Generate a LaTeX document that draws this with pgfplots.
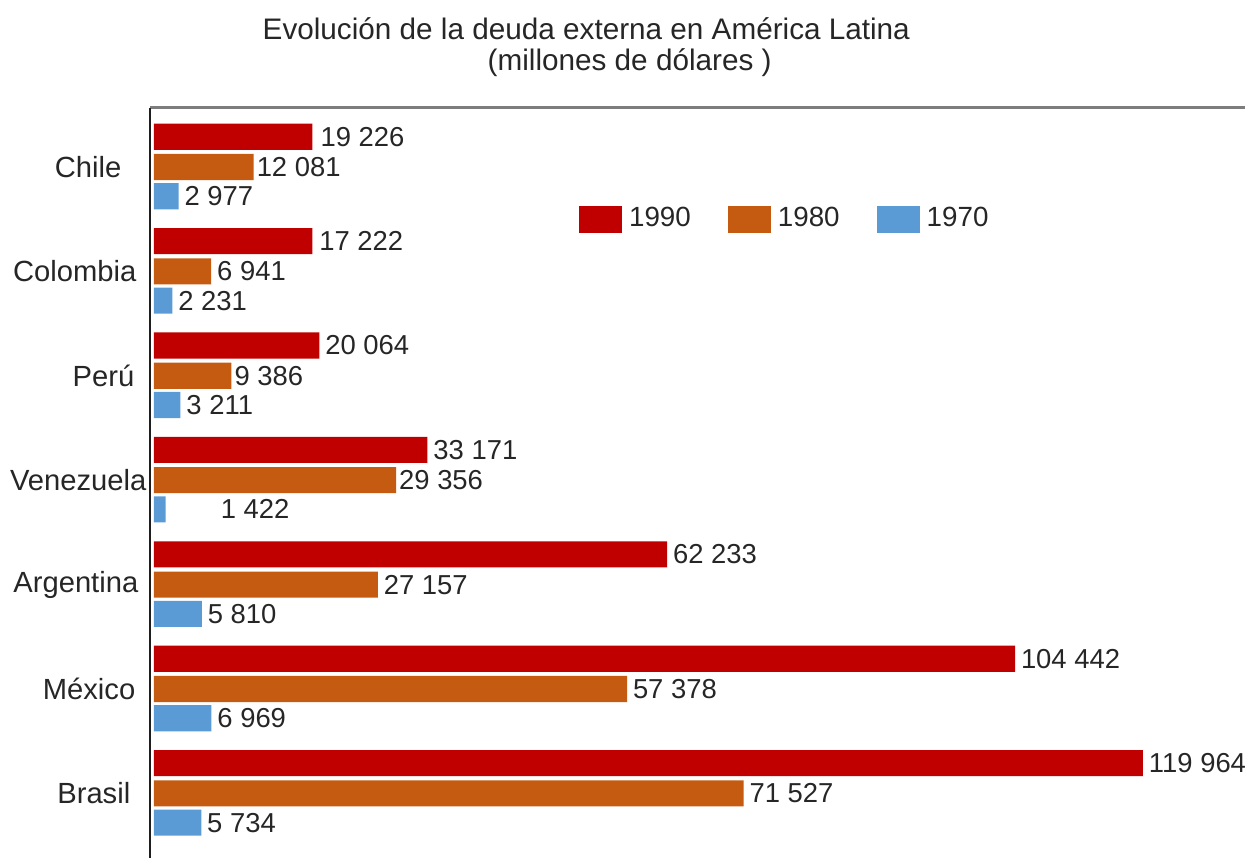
\documentclass[border=0pt]{standalone}
\usepackage{pgfplots}
\usepackage{pgfplotstable}
\pgfplotsset{compat=1.18}
\usepackage{fontspec}
\setmainfont{Liberation Sans}
\definecolor{c90}{RGB}{192,0,0}
\definecolor{c80}{RGB}{197,90,17}
\definecolor{c70}{RGB}{91,155,213}

% y: 0=Chile ... 6=Brasil ; val = drawn bar length ; lab = printed label ; dx = extra label shift (pt)
\pgfplotstableread[col sep=comma]{
y,val,lab,dx
0,19226,19 226,0.6
1,19200,17 222,0.3
2,20064,20 064,0
3,33171,33 171,0
4,62233,62 233,0
5,104442,104 442,0
6,119964,119 964,0
}\tA
\pgfplotstableread[col sep=comma]{
y,val,lab,dx
0,12081,12 081,-0.8
1,6941,6 941,0
2,9386,9 386,-0.8
3,29356,29 356,-0.8
4,27157,27 157,0
5,57378,57 378,0
6,71527,71 527,0
}\tB
\pgfplotstableread[col sep=comma]{
y,val,lab,dx
0,2977,2 977,0
1,2231,2 231,0
2,3211,3 211,0
3,1422,1 422,14
4,5810,5 810,0
5,6969,6 969,0
6,5734,5 734,0
}\tC

\begin{document}
\begin{tikzpicture}
\path[use as bounding box] (0,0) rectangle (12.45cm,8.58cm);
\node[anchor=base west, inner sep=0pt, font=\fontsize{8.45}{10}\selectfont, text=black!85] at (2.62cm,8.18cm) {Evolución de la deuda externa en América Latina};
\node[anchor=base west, inner sep=0pt, font=\fontsize{8.45}{10}\selectfont, text=black!85] at (4.87cm,7.87cm) {(millones de dólares )};
\begin{axis}[
  at={(1.5cm,0cm)}, anchor=south west,
  scale only axis, width=10.95cm, height=7.5cm,
  xmin=-485, xmax=132340, ymin=-0.565, ymax=6.619,
  y dir=reverse,
  xbar, bar width=0.25,
  clip=false,
  axis line style={draw=none},
  xtick=\empty,
  ytick={0,1,2,3,4,5,6},
  yticklabels={Chile\rule{0.28cm}{0pt},Colombia\rule{0.13cm}{0pt},Perú\rule{0.15cm}{0pt},Venezuela\rule{0.03cm}{0pt},Argentina\rule{0.11cm}{0pt},México\rule{0.14cm}{0pt},Brasil\rule{0.19cm}{0pt}},
  major tick length=0pt,
  yticklabel style={anchor=east, inner sep=0pt, font=\fontsize{8.3}{10}\selectfont, text=black!85},
  nodes near coords,
  point meta=explicit symbolic,
  visualization depends on={\thisrow{dx} \as \dx},
  nodes near coords style={font=\fontsize{7.8}{9}\selectfont, text=black!85, anchor=west, inner sep=1.5pt, xshift=\dx pt},
  legend style={at={(0.582,0.851)}, anchor=center, draw=none, fill=none,
    legend columns=3, font=\fontsize{7.9}{9}\selectfont, text=black!85,
    /tikz/every even column/.append style={column sep=0.3cm}},
  legend image code/.code={\fill (0cm,-0.135cm) rectangle (0.43cm,0.135cm);},
]
\addplot[fill=c90, draw=none, bar shift=-0.29] table[x=val,y=y,meta=lab,col sep=comma] {\tA};
\addplot[fill=c80, draw=none, bar shift=0] table[x=val,y=y,meta=lab,col sep=comma] {\tB};
\addplot[fill=c70, draw=none, bar shift=0.28] table[x=val,y=y,meta=lab,col sep=comma] {\tC};
\legend{1990,1980,1970}
\draw[color={rgb,255:red,125;green,125;blue,125}, line width=0.03cm] (axis description cs:0,1) -- (axis description cs:1,1);
\draw[color={rgb,255:red,30;green,30;blue,30}, line width=0.02cm] (axis description cs:0,0) -- (axis description cs:0,1);
\end{axis}
\end{tikzpicture}
\end{document}
